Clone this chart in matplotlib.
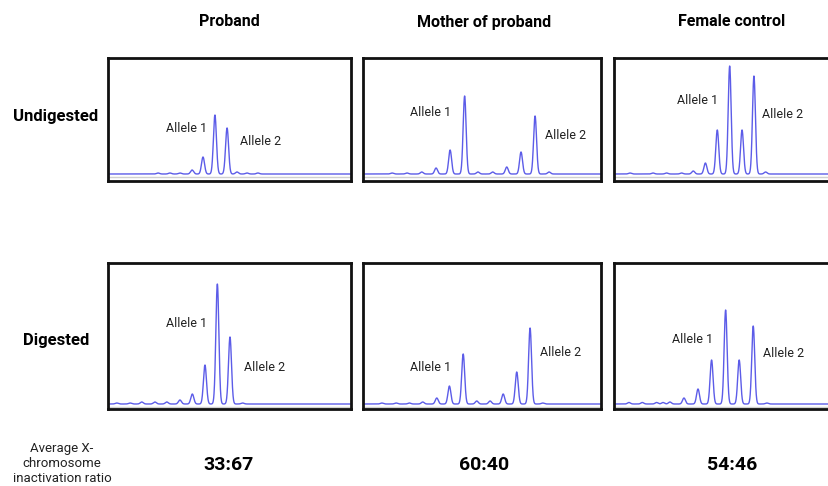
import numpy as np
import matplotlib.pyplot as plt

plt.rcParams['font.family'] = ['Roboto', 'DejaVu Sans']

samples = ['Proband', 'Mother of proband', 'Female control']
conditions = ['Undigested', 'Digested']
ratios = ['33:67', '60:40', '54:46']

# peak positions (0-100 along the trace) and heights
und_proband_pos = [20.6, 25.5, 29.6, 34.6, 39.1, 44.0, 49.0, 53.1, 57.2, 61.7]
und_proband_h = [1, 1, 1, 4, 17, 59, 46, 2, 1, 1]
und_mother_pos = [12.2, 18.5, 24.7, 30.7, 36.6, 42.7, 48.3, 54.5, 60.4, 66.4, 72.3, 78.2]
und_mother_h = [1, 1, 2, 6, 24, 78, 2, 2, 7, 22, 58, 2]
und_female_pos = [6.7, 16.4, 22.1, 28.4, 33.3, 38.4, 43.4, 48.6, 53.8, 58.8, 63.7]
und_female_h = [1, 1, 1, 1, 3, 11, 44, 108, 44, 98, 2]

dig_proband_pos = [3.6, 9.1, 13.9, 19.3, 24.2, 29.6, 34.7, 39.9, 45.0, 50.2, 55.4]
dig_proband_h = [1, 1, 2, 2, 2, 4, 10, 39, 120, 67, 1]
dig_mother_pos = [7.9, 13.9, 19.5, 25.1, 31.0, 36.3, 42.1, 47.8, 53.4, 58.9, 64.6, 70.2, 75.5]
dig_mother_h = [1, 1, 1, 2, 6, 18, 50, 3, 3, 10, 32, 76, 1]
dig_female_pos = [6.3, 11.9, 17.9, 20.6, 23.5, 29.4, 35.3, 41.0, 46.9, 52.6, 58.5, 64.2]
dig_female_h = [1.5, 1.5, 1.5, 1.5, 2, 6, 15, 44, 94, 44, 78, 1]

peaks = [
    [(und_proband_pos, und_proband_h), (und_mother_pos, und_mother_h), (und_female_pos, und_female_h)],
    [(dig_proband_pos, dig_proband_h), (dig_mother_pos, dig_mother_h), (dig_female_pos, dig_female_h)],
]

# allele label positions (x, y) in trace units
labels = [
    [((32.5, 46), (62.6, 33)), ((28.2, 61), (85.3, 39)), ((35.3, 73), (71.0, 60))],
    [((32.5, 81), (64.6, 37)), ((28.2, 37), (82.8, 52)), ((33.2, 65), (71.4, 51))],
]

W, H = 829, 486
fig = plt.figure(figsize=(W / 100, H / 100), dpi=100)

col_left = [108, 363, 614]
col_width = [243, 238, 238]
row_top = [58, 263]
row_bottom = [181, 409]
row_ylim = [(-7, 116), (-5, 141)]

x = np.linspace(0, 100, 2000)
sigma = 0.62

for r in range(2):
    for c in range(3):
        ax = fig.add_axes([col_left[c] / W, 1 - row_bottom[r] / H,
                           col_width[c] / W, (row_bottom[r] - row_top[r]) / H])
        pos, hts = peaks[r][c]
        y = np.zeros_like(x)
        for p, h in zip(pos, hts):
            y += h * np.exp(-((x - p) ** 2) / (2 * sigma ** 2))
        ax.axhline(-2.5, color='#d0d0d0', lw=1)
        ax.plot(x, y, color='#5c5ce8', lw=1.0)
        ax.set_xlim(0, 100)
        ax.set_ylim(*row_ylim[r])
        ax.set_xticks([])
        ax.set_yticks([])
        for s in ax.spines.values():
            s.set_linewidth(2)
            s.set_color('#111111')
        (a1, a2) = labels[r][c]
        ax.text(a1[0], a1[1], 'Allele 1', ha='center', va='center', fontsize=9, color='#222222')
        ax.text(a2[0], a2[1], 'Allele 2', ha='center', va='center', fontsize=9, color='#222222')

title_x = [229, 484, 732]
for name, tx in zip(samples, title_x):
    fig.text(tx / W, 1 - 22 / H, name, ha='center', va='center', fontsize=11.5, fontweight='bold')

fig.text(56 / W, 1 - 117 / H, conditions[0], ha='center', va='center', fontsize=12, fontweight='bold')
fig.text(56 / W, 1 - 341 / H, conditions[1], ha='center', va='center', fontsize=12, fontweight='bold')

fig.text(62 / W, 1 - 463 / H, 'Average X-\nchromosome\ninactivation ratio', ha='center', va='center',
         fontsize=9.5, linespacing=1.2, color='#222222')
for ratio, tx in zip(ratios, title_x):
    fig.text(tx / W, 1 - 465 / H, ratio, ha='center', va='center', fontsize=14, fontweight='bold')

fig.savefig('out.png', dpi=100)
